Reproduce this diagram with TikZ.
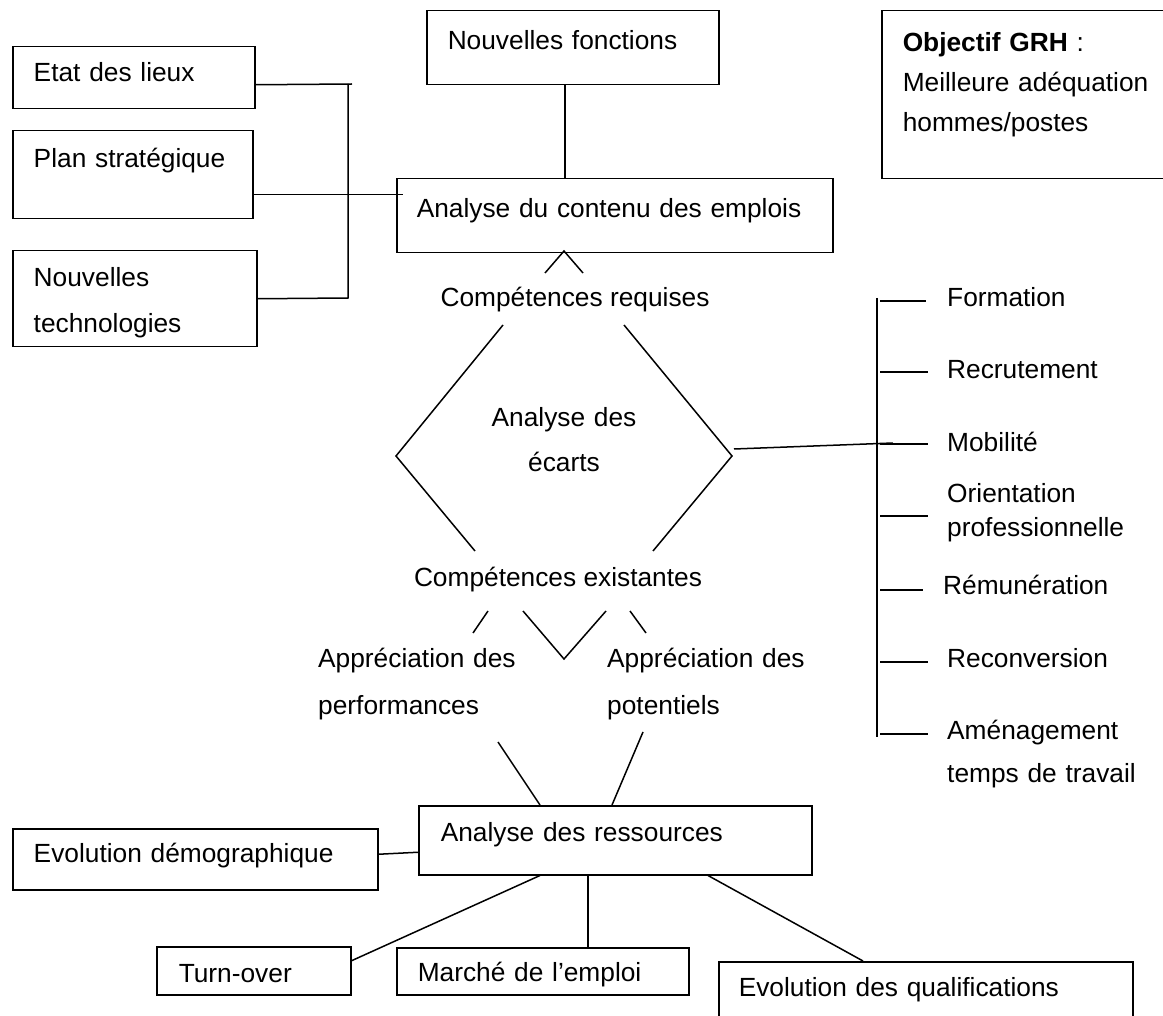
\documentclass[tikz,border=0pt]{standalone}
\usepackage{fontspec}
\setmainfont{Liberation Sans}
\usepackage{tikz}

\begin{document}
\begin{tikzpicture}[
  x=1pt,y=-1pt,
  font=\fontsize{26.3pt}{32pt}\selectfont,
  ln/.style={line width=1.5pt},
  box/.style={draw,line width=1.5pt,anchor=north west,align=left,inner xsep=21pt,inner ysep=0pt},
  lbl/.style={inner sep=0pt},
  lskip/.style={font=\fontsize{26.3pt}{#1}\selectfont}
]
\clip (0,0) rectangle (1163,1016);
\fill[white] (0,0) rectangle (1163,1016);

% boxes
\node[box,text width=200pt,text height=35pt,text depth=27pt] (etat) at (12,46) {Etat des lieux};
\node[box,text width=198pt,text height=37pt,text depth=51pt] (plan) at (12,130) {Plan stratégique};
\node[box,lskip=46pt,text width=202pt,text height=36pt,text depth=60pt] (nt) at (12,250) {Nouvelles\\technologies};
\node[box,text width=250pt,text height=39pt,text depth=35pt] (nf) at (426,10) {Nouvelles fonctions};
\node[box,inner xsep=20pt,text width=396pt,text height=39pt,text depth=35pt] (contenu) at (396,178) {Analyse du contenu des emplois};
\node[box,lskip=40pt,text width=258pt,text height=41pt,text depth=127pt] (obj) at (881,10) {{\bfseries Objectif GRH} :\\Meilleure adéquation\\hommes/postes};
\node[box,text width=323pt,text height=34pt,text depth=27pt] (demo) at (12,828) {Evolution démographique};
\node[box,inner xsep=22pt,text width=349pt,text height=36pt,text depth=33pt] (ar) at (418,805) {Analyse des ressources};
\node[box,inner xsep=22pt,text width=150pt,text height=36pt,text depth=12pt] (to) at (156,946) {Turn-over};
\node[box,text width=250pt,text height=34pt,text depth=13pt] (me) at (396,947) {Marché de l’emploi};
\node[box,inner xsep=20pt,text width=374pt,text height=35pt,text depth=70pt] (eq) at (718,961) {Evolution des qualifications};

% free labels
\node[lbl,anchor=base] (creq) at (575,307) {Compétences requises};
\node[lbl,anchor=base,lskip=45pt,text width=200pt,align=center] (ecarts) at (564,427) {Analyse des\\écarts};
\node[lbl,anchor=base] (cexist) at (558,586) {Compétences existantes};
\node[lbl,anchor=base west,lskip=47pt,text width=220pt,align=left] (perf) at (318,667) {Appréciation des\\performances};
\node[lbl,anchor=base west,lskip=47pt,text width=220pt,align=left] (pot) at (607,667) {Appréciation des\\potentiels};

\node[lbl,anchor=base west] (form) at (947,307) {Formation};
\node[lbl,anchor=base west] (recr) at (947,379) {Recrutement};
\node[lbl,anchor=base west] (mob) at (947,452) {Mobilité};
\node[lbl,anchor=base west,lskip=34pt,text width=210pt,align=left] (orient) at (947,502) {Orientation\\professionnelle};
\node[lbl,anchor=base west] (remu) at (943,594) {Rémunération};
\node[lbl,anchor=base west] (recon) at (947,667) {Reconversion};
\node[lbl,anchor=base west,lskip=43pt,text width=210pt,align=left] (amen) at (947,739) {Aménagement\\temps de travail};

% bracket on the left
\coordinate (jt) at (348,84);
\coordinate (jb) at (348,298);
\draw[ln] ([yshift=-7pt]etat.east) -- ([xshift=4pt]jt);
\draw[ln] (nt.east) -- (jb) -- (jt);
\draw[ln] ([yshift=-20pt]plan.east) -- ([xshift=7pt,yshift=21pt]contenu.west);
\draw[ln] ([xshift=-8pt]nf.south) -- ([xshift=-50pt]contenu.north);

% gap diamond
\draw[ln] (545,273) -- (564,251) -- (583,273);
\draw[ln] (503,325) -- (396,456) -- (475,551);
\draw[ln] (624,325) -- (732,456) -- (653,551);
\draw[ln] (488,611) -- (473,633);
\draw[ln] (523,611) -- (564,659) -- (606,611);
\draw[ln] (630,611) -- (646,633);

% actions on the right
\coordinate (bt) at (877,298);
\coordinate (bb) at (877,737);
\draw[ln] (bt) -- (bb);
\draw[ln] (734,449) -- (893,443);
\foreach \ty/\te in {301/926,372/928,444/928,516/928,590/923,662/928,734/928}
  \draw[ln] (880,\ty) -- (\te,\ty);

% resources
\draw[ln] (498,742) -- ([xshift=122pt]ar.north west);
\draw[ln] (643,732) -- ([xshift=194pt]ar.north west);
\draw[ln] ([yshift=5pt]demo.east) -- ([yshift=-12pt]ar.west);
\draw[ln] ([xshift=122pt]ar.south west) -- ([yshift=10pt]to.east);
\draw[ln] ([xshift=170pt]ar.south west) coordinate (mk) -- (mk |- me.north);
\draw[ln] ([xshift=290pt]ar.south west) -- ([xshift=145pt]eq.north west);
\end{tikzpicture}
\end{document}
